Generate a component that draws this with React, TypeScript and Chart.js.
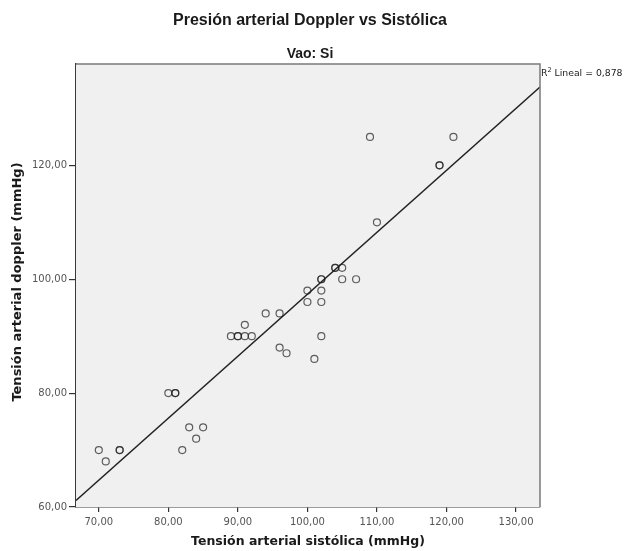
import React, { useEffect, useRef } from "react";
import { Chart, registerables } from "chart.js";

Chart.register(...registerables);

// ---- data ----
const sistolica = [
  70, 71, 73, 73, 80, 81, 81, 82, 83, 84, 85, 89, 90, 90, 91, 91, 92, 94, 96, 96,
  97, 100, 100, 101, 102, 102, 102, 102, 102, 104, 104, 105, 105, 107, 109, 110, 119, 119, 121,
];
const doppler = [
  70, 68, 70, 70, 80, 80, 80, 70, 74, 72, 74, 90, 90, 90, 90, 92, 90, 94, 94, 88,
  87, 98, 96, 86, 90, 96, 98, 100, 100, 102, 102, 102, 100, 100, 125, 110, 120, 120, 125,
];
const xTickValues = [70, 80, 90, 100, 110, 120, 130];
const yTickValues = [60, 80, 100, 120];
const xRange = [66.72, 133.45];
const yRange = [60, 137.8];
const chartTitle = "Presión arterial Doppler vs Sistólica";
const panelTitle = "Vao: Si";
const xAxisTitle = "Tensión arterial sistólica (mmHg)";
const yAxisTitle = "Tensión arterial doppler (mmHg)";
const r2Parts = ["R", "2", " Lineal = 0,878"];

function linearFit(xs: number[], ys: number[]) {
  const n = xs.length;
  const mx = xs.reduce((a, b) => a + b, 0) / n;
  const my = ys.reduce((a, b) => a + b, 0) / n;
  let sxy = 0;
  let sxx = 0;
  for (let i = 0; i < n; i++) {
    sxy += (xs[i] - mx) * (ys[i] - my);
    sxx += (xs[i] - mx) * (xs[i] - mx);
  }
  const b = sxy / sxx;
  return { a: my - b * mx, b };
}

const fmt = (v: number) => v.toFixed(2).replace(".", ",");

export default function App() {
  const ref = useRef<HTMLCanvasElement | null>(null);

  useEffect(() => {
    if (!ref.current) return;
    const fit = linearFit(sistolica, doppler);
    const points = sistolica.map((x, i) => ({ x, y: doppler[i] }));
    const fitLine = xRange.map((x) => ({ x, y: fit.a + fit.b * x }));

    const decor = {
      id: "decor",
      beforeDatasetsDraw(chart: any) {
        const { ctx, chartArea: ca } = chart;
        ctx.save();
        ctx.fillStyle = "#f0f0f0";
        ctx.fillRect(ca.left, ca.top, ca.right - ca.left, ca.bottom - ca.top);
        ctx.restore();
      },
      afterDraw(chart: any) {
        const { ctx, chartArea: ca } = chart;
        ctx.save();
        // top & right frame
        ctx.strokeStyle = "#7a7a7a";
        ctx.lineWidth = 1.5;
        ctx.beginPath();
        ctx.moveTo(ca.left, ca.top);
        ctx.lineTo(ca.right, ca.top);
        ctx.lineTo(ca.right, ca.bottom);
        ctx.stroke();

        ctx.fillStyle = "#1a1a1a";
        ctx.textAlign = "center";
        ctx.textBaseline = "middle";
        ctx.font = "bold 16px 'Liberation Sans', Arial, sans-serif";
        ctx.fillText(chartTitle, 310, 21);
        ctx.font = "bold 14px 'Liberation Sans', Arial, sans-serif";
        ctx.fillText(panelTitle, 310, 54);

        ctx.font = "bold 12.5px 'DejaVu Sans', Verdana, sans-serif";
        ctx.fillText(xAxisTitle, 308, 542);
        ctx.save();
        ctx.translate(18, 282);
        ctx.rotate(-Math.PI / 2);
        ctx.font = "bold 13px 'DejaVu Sans', Verdana, sans-serif";
        ctx.fillText(yAxisTitle, 0, 0);
        ctx.restore();

        // R² label
        ctx.textAlign = "left";
        ctx.textBaseline = "alphabetic";
        ctx.fillStyle = "#222";
        let x = ca.right + 1;
        const base = 76;
        ctx.font = "9.3px 'DejaVu Sans', sans-serif";
        ctx.fillText(r2Parts[0], x, base);
        x += ctx.measureText(r2Parts[0]).width;
        ctx.font = "6.5px 'DejaVu Sans', sans-serif";
        ctx.fillText(r2Parts[1], x, base - 4);
        x += ctx.measureText(r2Parts[1]).width;
        ctx.font = "9.3px 'DejaVu Sans', sans-serif";
        ctx.fillText(r2Parts[2], x, base);
        ctx.restore();
      },
    };

    const tickFont = { family: "'DejaVu Sans', sans-serif", size: 10 };

    const chart = new Chart(ref.current, {
      type: "scatter",
      data: {
        datasets: [
          {
            type: "scatter",
            data: points,
            pointStyle: "circle",
            pointRadius: 3.5,
            pointBorderWidth: 1.2,
            pointBorderColor: "rgba(30,30,30,0.7)",
            pointBackgroundColor: "rgba(0,0,0,0)",
            order: 1,
          } as any,
          {
            type: "line",
            data: fitLine,
            borderColor: "#222",
            borderWidth: 1.5,
            pointRadius: 0,
            fill: false,
            order: 2,
          } as any,
        ],
      },
      options: {
        responsive: false,
        devicePixelRatio: 1,
        animation: false,
        layout: { padding: { top: 64, right: 86, left: 0, bottom: 0 } },
        plugins: {
          legend: { display: false },
          title: { display: false },
          tooltip: { enabled: false },
        },
        scales: {
          x: {
            type: "linear",
            min: xRange[0],
            max: xRange[1],
            afterBuildTicks: (scale: any) => {
              scale.ticks = xTickValues.map((value) => ({ value }));
            },
            afterFit: (scale: any) => {
              scale.height = 44;
            },
            grid: {
              display: true,
              drawOnChartArea: false,
              drawTicks: true,
              tickLength: 5,
              color: "#333",
              lineWidth: 1.2,
            },
            border: { display: true, color: "#3a3a3a", width: 1.5 },
            ticks: {
              callback: (v: any) => fmt(Number(v)),
              font: tickFont,
              color: "#555",
              padding: 4,
              maxRotation: 0,
              autoSkip: false,
            },
          },
          y: {
            type: "linear",
            min: yRange[0],
            max: yRange[1],
            afterBuildTicks: (scale: any) => {
              scale.ticks = yTickValues.map((value) => ({ value }));
            },
            afterFit: (scale: any) => {
              scale.width = 76;
            },
            grid: {
              display: true,
              drawOnChartArea: false,
              drawTicks: true,
              tickLength: 7,
              color: "#333",
              lineWidth: 1.2,
            },
            border: { display: true, color: "#3a3a3a", width: 1.5 },
            ticks: {
              callback: (v: any) => fmt(Number(v)),
              font: tickFont,
              color: "#555",
              padding: 2,
              autoSkip: false,
            },
          },
        },
      },
      plugins: [decor],
    } as any);

    return () => chart.destroy();
  }, []);

  return (
    <div
      style={{
        position: "fixed",
        left: 0,
        top: 0,
        width: 626,
        height: 551,
        background: "#fff",
      }}
    >
      <canvas ref={ref} width={626} height={551} style={{ display: "block" }} />
    </div>
  );
}
